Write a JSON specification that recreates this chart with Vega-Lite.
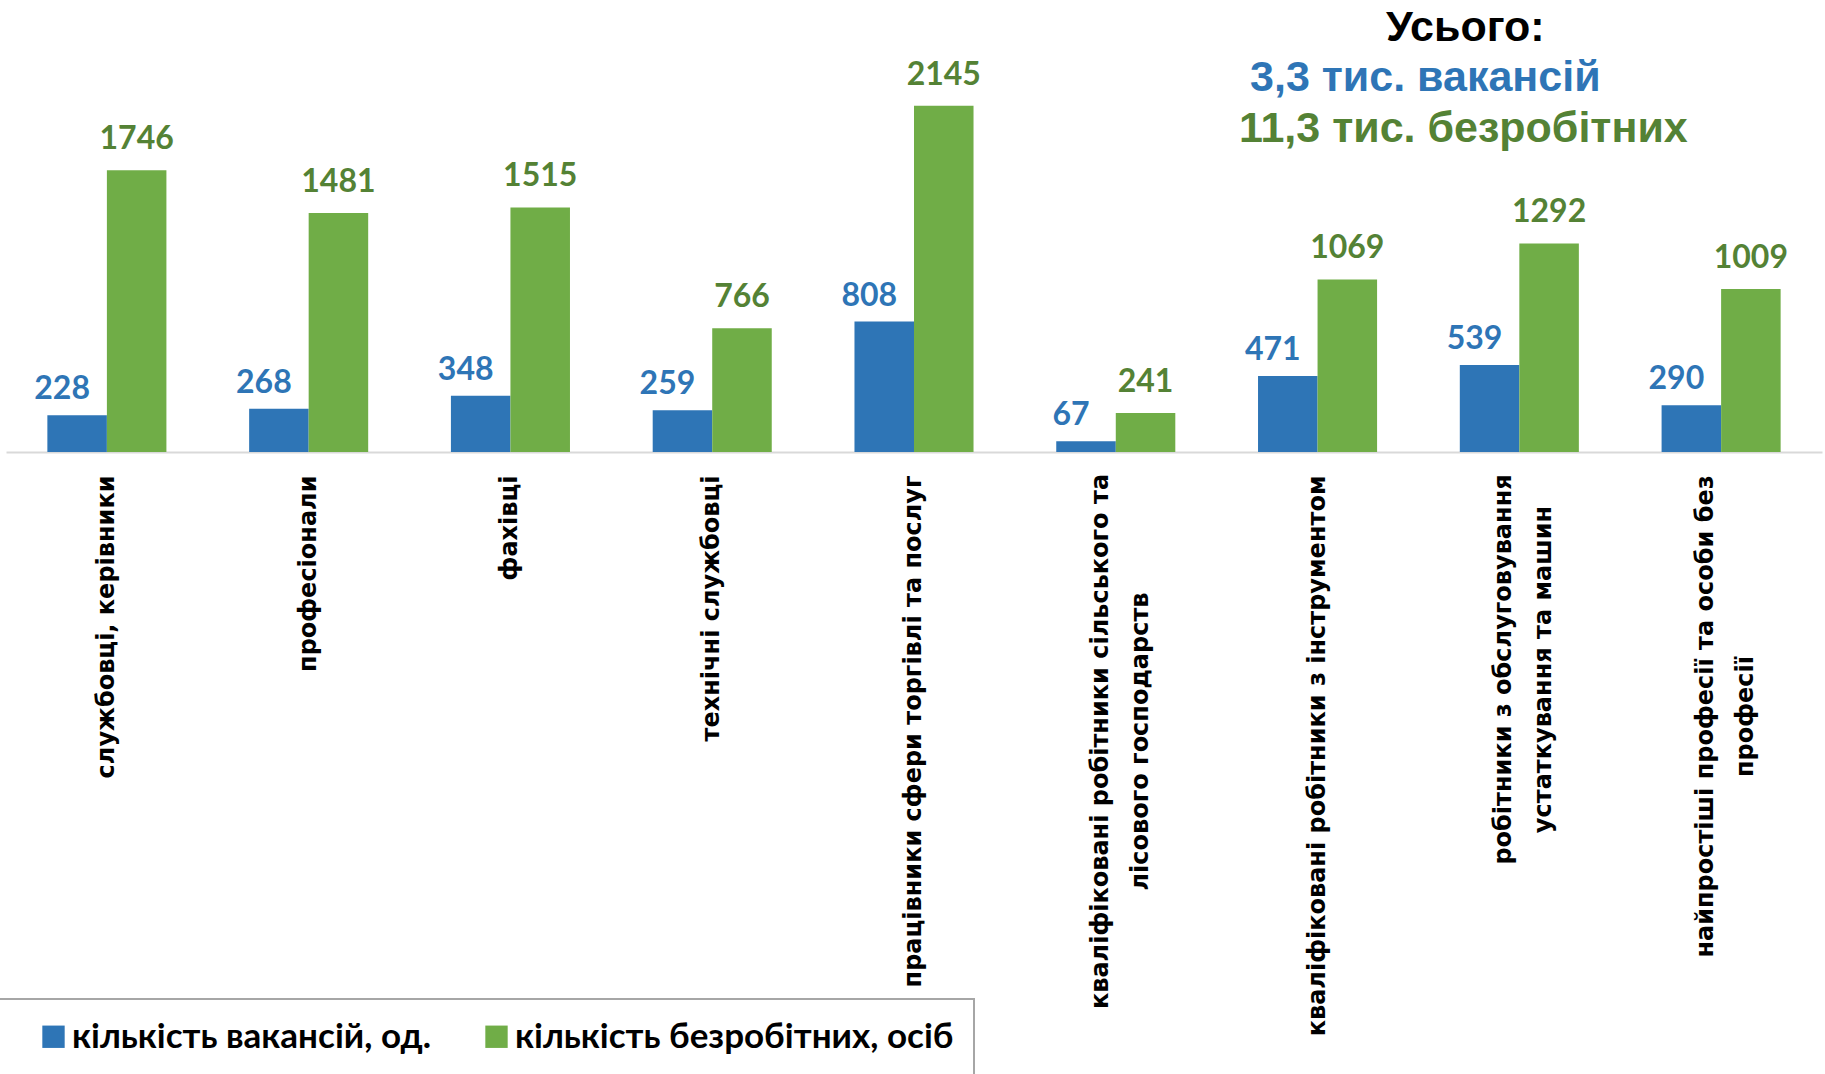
{
  "$schema": "https://vega.github.io/schema/vega-lite/v6.json",
  "width": 1816,
  "height": 452,
  "autosize": {"type": "none"},
  "padding": {"left": 6, "top": 0, "right": 3, "bottom": 622},
  "background": "white",
  "config": {"view": {"stroke": null}, "legend": {"strokeWidth": 2}},
  "data": {
    "values": [
      {"cat": "службовці, керівники", "series": "кількість вакансій, од.", "value": 228},
      {"cat": "службовці, керівники", "series": "кількість безробітних, осіб", "value": 1746},
      {"cat": "професіонали", "series": "кількість вакансій, од.", "value": 268},
      {"cat": "професіонали", "series": "кількість безробітних, осіб", "value": 1481},
      {"cat": "фахівці", "series": "кількість вакансій, од.", "value": 348},
      {"cat": "фахівці", "series": "кількість безробітних, осіб", "value": 1515},
      {"cat": "технічні службовці", "series": "кількість вакансій, од.", "value": 259},
      {"cat": "технічні службовці", "series": "кількість безробітних, осіб", "value": 766},
      {"cat": "працівники сфери торгівлі та послуг", "series": "кількість вакансій, од.", "value": 808},
      {"cat": "працівники сфери торгівлі та послуг", "series": "кількість безробітних, осіб", "value": 2145},
      {"cat": "кваліфіковані робітники сільського та|лісового господарств", "series": "кількість вакансій, од.", "value": 67},
      {"cat": "кваліфіковані робітники сільського та|лісового господарств", "series": "кількість безробітних, осіб", "value": 241},
      {"cat": "кваліфіковані робітники з інструментом", "series": "кількість вакансій, од.", "value": 471},
      {"cat": "кваліфіковані робітники з інструментом", "series": "кількість безробітних, осіб", "value": 1069},
      {"cat": "робітники з обслуговування|устаткування та машин", "series": "кількість вакансій, од.", "value": 539},
      {"cat": "робітники з обслуговування|устаткування та машин", "series": "кількість безробітних, осіб", "value": 1292},
      {"cat": "найпростіші професії та особи без|професії", "series": "кількість вакансій, од.", "value": 290},
      {"cat": "найпростіші професії та особи без|професії", "series": "кількість безробітних, осіб", "value": 1009}
    ]
  },
  "encoding": {
    "x": {
      "field": "cat",
      "type": "nominal",
      "sort": null,
      "scale": {
        "domain": ["службовці, керівники", "професіонали", "фахівці", "технічні службовці", "працівники сфери торгівлі та послуг", "кваліфіковані робітники сільського та|лісового господарств", "кваліфіковані робітники з інструментом", "робітники з обслуговування|устаткування та машин", "найпростіші професії та особи без|професії"],
        "paddingInner": 0.41,
        "paddingOuter": 0.205
      },
      "axis": {
        "title": null,
        "labelAngle": -90,
        "labelFont": "DejaVu Sans",
        "labelFontWeight": "bold",
        "labelFontSize": 24,
        "labelColor": "black",
        "labelAlign": {"condition": {"test": "indexof(datum.value, '|') >= 0", "value": "center"}, "value": "right"},
        "labelPadding": {
          "condition": [
            {"test": "datum.value == 'кваліфіковані робітники сільського та|лісового господарств'", "value": 289},
            {"test": "datum.value == 'робітники з обслуговування|устаткування та машин'", "value": 217},
            {"test": "datum.value == 'найпростіші професії та особи без|професії'", "value": 264}
          ],
          "value": 23
        },
        "labelOffset": {"condition": {"test": "indexof(datum.value, '|') >= 0", "value": -15}, "value": 0},
        "labelLineHeight": 40,
        "labelLimit": 800,
        "labelOverlap": false,
        "labelExpr": "split(datum.label, '|')",
        "ticks": false,
        "tickSize": 0,
        "domainColor": "#D9D9D9",
        "domainWidth": 2
      }
    }
  },
  "layer": [
    {
      "mark": {"type": "bar"},
      "encoding": {
        "xOffset": {"field": "series", "type": "nominal", "sort": ["кількість вакансій, од.", "кількість безробітних, осіб"]},
        "y": {"field": "value", "type": "quantitative", "scale": {"domain": [0, 2800], "nice": false}, "axis": null},
        "color": {
          "field": "series",
          "type": "nominal",
          "scale": {"domain": ["кількість вакансій, од.", "кількість безробітних, осіб"], "range": ["#2E75B6", "#70AD47"]},
          "legend": {
            "orient": "none",
            "legendX": -16,
            "legendY": 999,
            "direction": "horizontal",
            "title": null,
            "symbolType": "square",
            "symbolSize": 500,
            "symbolOpacity": 1,
            "symbolStrokeWidth": 0,
            "symbolOffset": 26,
            "labelOffset": 1,
            "labelFont": "Lato",
            "labelFontWeight": "bold",
            "labelFontSize": 35,
            "labelColor": "black",
            "labelLimit": 800,
            "labelExpr": "datum.label == 'кількість безробітних, осіб' ? datum.label + '\u00a0\u00a0\u00a0' : datum.label",
            "strokeColor": "#A6A6A6",
            "padding": 20,
            "columnPadding": 22
          }
        }
      }
    },
    {
      "transform": [{"filter": "datum.series == 'кількість вакансій, од.'"}],
      "mark": {"type": "text", "dx": -15, "dy": -16, "baseline": "alphabetic", "font": "Lato", "fontWeight": "bold", "fontSize": 32, "color": "#2E75B6"},
      "encoding": {
        "xOffset": {"field": "series", "type": "nominal", "sort": ["кількість вакансій, од.", "кількість безробітних, осіб"]},
        "y": {"field": "value", "type": "quantitative"},
        "text": {"field": "value", "type": "quantitative", "format": "d"}
      }
    },
    {
      "transform": [{"filter": "datum.series == 'кількість безробітних, осіб'"}],
      "mark": {"type": "text", "dx": 0, "dy": -21, "baseline": "alphabetic", "font": "Lato", "fontWeight": "bold", "fontSize": 32, "color": "#548235"},
      "encoding": {
        "xOffset": {"field": "series", "type": "nominal", "sort": ["кількість вакансій, од.", "кількість безробітних, осіб"]},
        "y": {"field": "value", "type": "quantitative"},
        "text": {"field": "value", "type": "quantitative", "format": "d"}
      }
    },
    {
      "data": {"values": [{"cat": "робітники з обслуговування|устаткування та машин", "pos": 2546, "label": "Усього:"}]},
      "mark": {"type": "text", "dx": -54, "baseline": "alphabetic", "font": "Liberation Sans", "fontWeight": "bold", "fontSize": 43, "color": "black"},
      "encoding": {"y": {"field": "pos", "type": "quantitative"}, "text": {"field": "label"}}
    },
    {
      "data": {"values": [{"cat": "робітники з обслуговування|устаткування та машин", "pos": 2236, "label": "3,3 тис. вакансій"}]},
      "mark": {"type": "text", "dx": -94, "baseline": "alphabetic", "font": "Liberation Sans", "fontWeight": "bold", "fontSize": 43, "color": "#2E75B6"},
      "encoding": {"y": {"field": "pos", "type": "quantitative"}, "text": {"field": "label"}}
    },
    {
      "data": {"values": [{"cat": "робітники з обслуговування|устаткування та машин", "pos": 1920, "label": "11,3 тис. безробітних"}]},
      "mark": {"type": "text", "dx": -56, "baseline": "alphabetic", "font": "Liberation Sans", "fontWeight": "bold", "fontSize": 43, "color": "#548235"},
      "encoding": {"y": {"field": "pos", "type": "quantitative"}, "text": {"field": "label"}}
    }
  ]
}
